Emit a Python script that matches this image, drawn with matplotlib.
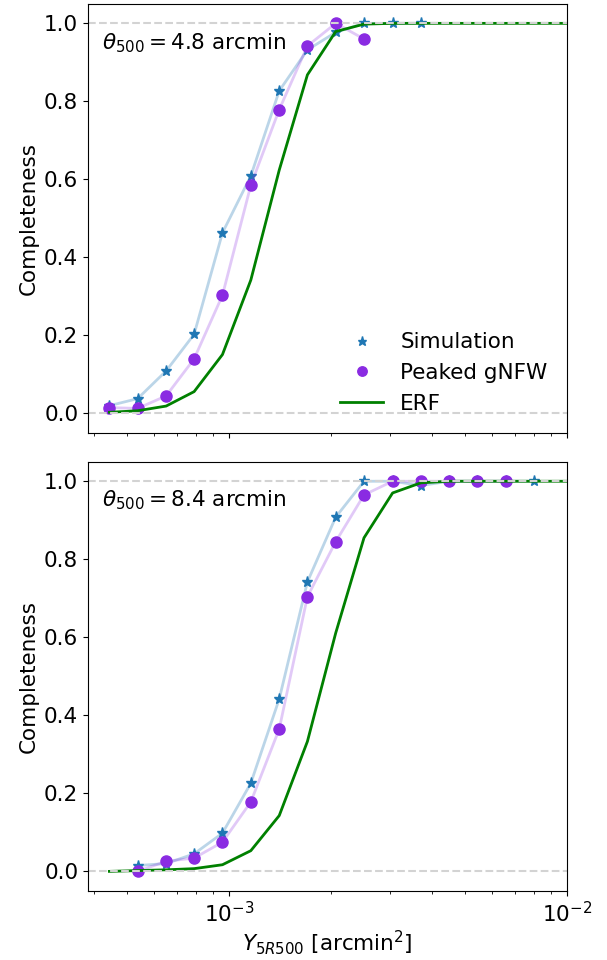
import numpy as np
import matplotlib.pyplot as plt

# Y_5R500 bins [arcmin^2]
Y = np.array([4.43e-4, 5.37e-4, 6.52e-4, 7.89e-4, 9.57e-4, 1.161e-3, 1.409e-3,
              1.707e-3, 2.07e-3, 2.51e-3, 3.05e-3, 3.70e-3, 4.48e-3, 5.43e-3,
              6.59e-3, 8.0e-3, 9.7e-3, 1.18e-2])

# theta_500 = 4.8 arcmin
sim_48 = [0.02, 0.038, 0.109, 0.203, 0.463, 0.609, 0.827, 0.932, 0.977, 1.0, 1.0, 1.0]
gnfw_48 = [0.015, 0.013, 0.045, 0.140, 0.303, 0.585, 0.779, 0.942, 1.0, 0.960]
erf_48 = [0.003, 0.007, 0.019, 0.056, 0.151, 0.342, 0.624, 0.868, 0.979, 0.998,
          1.0, 1.0, 1.0, 1.0, 1.0, 1.0, 1.0, 1.0]

# theta_500 = 8.4 arcmin (first bin empty for the markers)
sim_84 = [np.nan, 0.015, 0.020, 0.045, 0.098, 0.226, 0.442, 0.742, 0.908, 1.0,
          1.0, 0.989, 1.0, 1.0, 1.0, 1.0]
gnfw_84 = [np.nan, 0.0, 0.026, 0.034, 0.075, 0.178, 0.365, 0.704, 0.845, 0.965,
           1.0, 1.0, 1.0, 1.0, 1.0]
erf_84 = [0.0, 0.002, 0.004, 0.007, 0.017, 0.053, 0.143, 0.333, 0.611, 0.855,
          0.970, 0.996, 1.0, 1.0, 1.0, 1.0, 1.0, 1.0]

panels = [(sim_48, gnfw_48, erf_48, r"$\theta_{500} = 4.8$ arcmin"),
          (sim_84, gnfw_84, erf_84, r"$\theta_{500} = 8.4$ arcmin")]

plt.rcParams['font.size'] = 15.5
fig, axes = plt.subplots(2, 1, figsize=(6.07, 9.6), dpi=100, sharex=True)
fig.subplots_adjust(left=0.145, right=0.934, top=0.996, bottom=0.072, hspace=0.067)

for ax, (sim, gnfw, erf, label) in zip(axes, panels):
    ns, ng, ne = len(sim), len(gnfw), len(erf)
    ax.plot(Y[:ns], sim, color='#1f77b4', alpha=0.3, lw=2)
    ax.plot(Y[:ns], sim, '*', color='#1f77b4', ms=8, label='Simulation')
    ax.plot(Y[:ng], gnfw, color='#8a2be2', alpha=0.25, lw=2)
    ax.plot(Y[:ng], gnfw, 'o', color='#8a2be2', ms=8, label='Peaked gNFW')
    ax.plot(Y[:ne], erf, color='green', lw=2, label='ERF')
    ax.axhline(0, color='lightgray', ls='--', lw=1.5)
    ax.axhline(1, color='lightgray', ls='--', lw=1.5)
    ax.text(0.03, 0.895, label, transform=ax.transAxes)
    ax.set_ylabel("Completeness")
    ax.set_xscale('log')
    ax.set_xlim(3.83e-4, 1e-2)
    ax.set_ylim(-0.05, 1.05)

axes[0].legend(loc='lower right', frameon=False, bbox_to_anchor=(1.0, 0.0),
               markerscale=0.85)
axes[1].set_xlabel(r"$Y_{5R500}$ [arcmin$^2$]", labelpad=1.5)

plt.savefig("out.png")
